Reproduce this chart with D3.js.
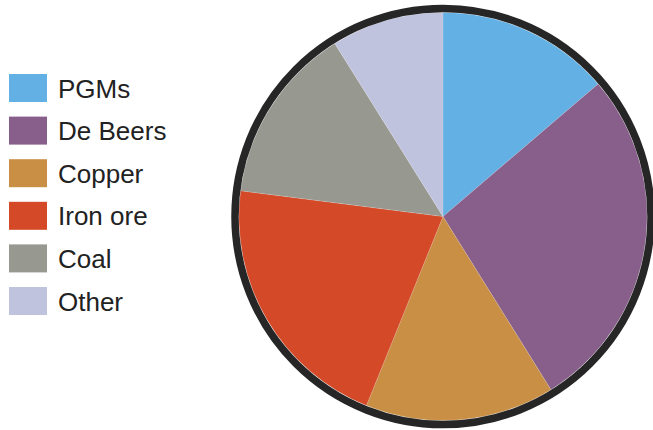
<!DOCTYPE html>
<html><head><meta charset="utf-8">
<script src="https://cdn.jsdelivr.net/npm/d3@7"></script>
<style>body{margin:0;background:#fff;}svg{display:block;}</style>
</head><body>
<svg id="chart" width="653" height="430"></svg>
<script>
const categories = ["PGMs", "De Beers", "Copper", "Iron ore", "Coal", "Other"];
const values = [13.75, 27.4, 15.0, 20.9, 14.1, 8.9];
const colors = ["#62b0e4", "#875f8a", "#c98f45", "#d44a28", "#979890", "#bfc3de"];

const svg = d3.select("#chart");
const cx = 443, cy = 216.5, r = 204;
const color = d3.scaleOrdinal().domain(categories).range(colors);
const pie = d3.pie().sort(null).value(d => d.v);
const data = categories.map((c, i) => ({c, v: values[i]}));
const arc = d3.arc().innerRadius(0).outerRadius(r);
const g = svg.append("g").attr("transform", `translate(${cx},${cy})`);
g.selectAll("path").data(pie(data)).join("path")
  .attr("d", arc).attr("fill", d => color(d.data.c))
  .attr("stroke", "#ffffff").attr("stroke-opacity", 0.25).attr("stroke-width", 0.5);
g.append("circle").attr("r", r + 4).attr("fill", "none")
  .attr("stroke", "#262626").attr("stroke-width", 7.5);

const leg = svg.append("g");
const row = leg.selectAll("g").data(categories).join("g")
  .attr("transform", (d, i) => `translate(9,${74 + i * 42.6})`);
row.append("rect").attr("width", 38).attr("height", 28).attr("fill", d => color(d));
row.append("text").attr("x", 49).attr("y", 23.5).text(d => d)
  .style("font-family", "'Liberation Sans', Arial, sans-serif").attr("font-size", 26).attr("fill", "#222");
</script>
</body></html>
